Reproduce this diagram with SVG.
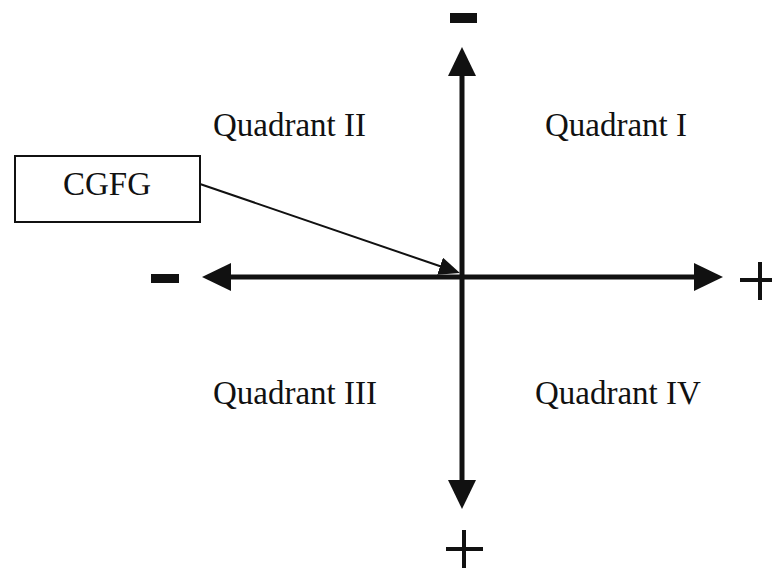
<svg xmlns="http://www.w3.org/2000/svg" width="773" height="568" viewBox="0 0 773 568">
<defs>
<style>
.lbl{font-family:"Liberation Serif","Times New Roman",serif;font-size:33px;fill:#111}
.axis{stroke:#111;stroke-width:5;fill:none}
.sign{stroke:#111;fill:none}
.thin{stroke:#111;stroke-width:2;fill:none}
</style>
<marker id="bigHead" markerUnits="userSpaceOnUse" markerWidth="30" markerHeight="30" viewBox="0 0 30 28" refX="1" refY="14" orient="auto-start-reverse">
<path d="M0,0 L29,14 L0,28 Z" fill="#111"/>
</marker>
<marker id="smallHead" markerUnits="userSpaceOnUse" markerWidth="22" markerHeight="18" viewBox="0 0 22 18" refX="1" refY="9" orient="auto">
<path d="M0,0 L21,9 L0,18 Z" fill="#111"/>
</marker>
</defs>
<rect width="773" height="568" fill="#fff"/>
<g id="connectors">
<line id="y-axis" class="axis" x1="462" y1="75" x2="462" y2="481" marker-start="url(#bigHead)" marker-end="url(#bigHead)"/>
<line id="x-axis" class="axis" x1="230" y1="277" x2="695" y2="277" marker-start="url(#bigHead)" marker-end="url(#bigHead)"/>
<line id="cgfg-arrow" class="thin" x1="200" y1="184" x2="441" y2="266.5" marker-end="url(#smallHead)"/>
</g>
<g id="signs">
<rect x="450" y="13" width="27" height="10" fill="#111"/>
<rect x="151" y="274" width="28" height="9" fill="#111"/>
<path class="sign" stroke-width="4" d="M740,280 H772 M760,262 V300"/>
<path class="sign" stroke-width="4" d="M446,549 H483 M464,530 V568"/>
</g>
<g id="quadrant-1"><text class="lbl" x="545" y="136">Quadrant I</text></g>
<g id="quadrant-2"><text class="lbl" x="213" y="136">Quadrant II</text></g>
<g id="quadrant-3"><text class="lbl" x="213" y="404">Quadrant III</text></g>
<g id="quadrant-4"><text class="lbl" x="535" y="404">Quadrant IV</text></g>
<g id="cgfg">
<rect x="15" y="156" width="185" height="66" fill="#fff" stroke="#111" stroke-width="2"/>
<text class="lbl" x="107" y="195" text-anchor="middle">CGFG</text>
</g>
</svg>
